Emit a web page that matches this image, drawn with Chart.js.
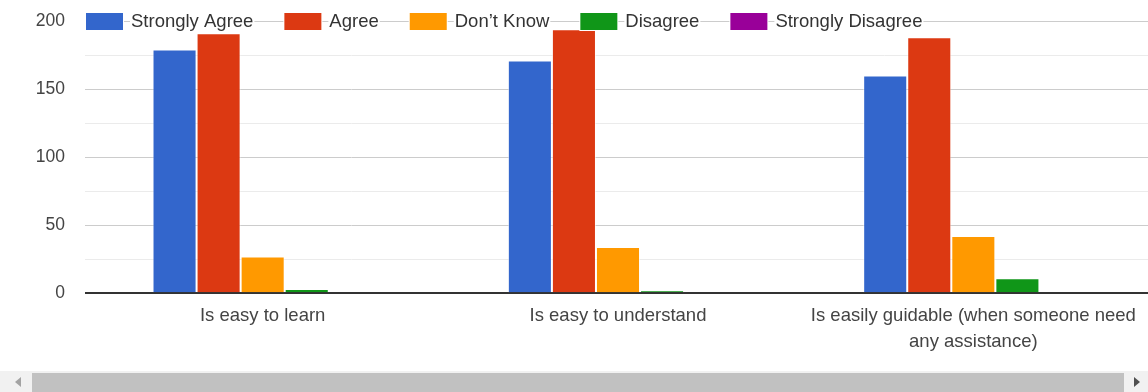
<!DOCTYPE html>
<html>
<head>
<meta charset="utf-8">
<script src="https://cdn.jsdelivr.net/npm/chart.js@4/dist/chart.umd.min.js"></script>
<style>
    html, body { margin: 0; padding: 0; background: #fff; overflow: hidden; }
    #wrap { position: absolute; left: 0; top: 0; width: 1148px; height: 392px; overflow: hidden; }
    #box { position: absolute; left: 0; top: 0; width: 1151px; height: 371px; }
    /* horizontal scroll strip under the chart */
    #track { position: absolute; left: 0; top: 371px; width: 1148px; height: 21px; background: #f1f1f1; }
    #thumb { position: absolute; left: 32px; top: 2px; width: 1092px; height: 19px; background: #c1c1c1; }
    .arr { position: absolute; top: 6px; width: 0; height: 0; border-top: 5px solid transparent; border-bottom: 5px solid transparent; }
    #arrL { left: 15px; border-right: 6px solid #a3a3a3; }
    #arrR { left: 1134px; border-left: 6px solid #505050; }
</style>
</head>
<body>
<div id="wrap">
    <div id="box"><canvas id="survey_chart"></canvas></div>
    <div id="track"><div id="arrL" class="arr"></div><div id="thumb"></div><div id="arrR" class="arr"></div></div>
</div>
<script>
    var questions = [
        'Is easy to learn',
        'Is easy to understand',
        ['Is easily guidable (when someone need', 'any assistance)']
    ];
    var answers = ['Strongly Agree', 'Agree', 'Don\u2019t Know', 'Disagree', 'Strongly Disagree'];
    var colours = ['#3366cc', '#dc3912', '#ff9900', '#109618', '#990099'];

    var stronglyAgree = [179, 171, 160];
    var agree = [191, 194, 188];
    var dontKnow = [27, 34, 42];
    var disagree = [3, 2, 11];
    var stronglyDisagree = [0, 0, 0];

    var yTicks = [0, 50, 100, 150, 200];

    var FONT = 'Arial, "Liberation Sans", sans-serif';
    var counts = [stronglyAgree, agree, dontKnow, disagree, stronglyDisagree];

    //legend drawn on the top gridline, google style
    var topLegend = {
        id: 'topLegend',
        afterDraw: function (chart) {
            var ctx = chart.ctx;
            var y = chart.scales.y.getPixelForValue(200);
            var x = chart.chartArea.left + 1;
            ctx.save();
            ctx.font = '18.5px ' + FONT;
            ctx.textBaseline = 'middle';
            chart.data.datasets.forEach(function (ds) {
                var w = ctx.measureText(ds.label).width;
                ctx.fillStyle = '#fff';
                ctx.fillRect(x - 1, y - 9, 39, 19);
                ctx.fillRect(x + 44, y - 11, w + 2, 22);
                ctx.fillStyle = ds.backgroundColor;
                ctx.fillRect(x, y - 8, 37, 17);
                ctx.fillStyle = '#333';
                ctx.fillText(ds.label, x + 45, y + 1);
                x += 45 + w + 31;
            });
            ctx.restore();
        }
    };

    new Chart(document.getElementById('survey_chart'), {
        type: 'bar',
        data: {
            labels: questions,
            datasets: answers.map(function (name, i) {
                return {
                    label: name,
                    data: counts[i],
                    backgroundColor: colours[i],
                    borderColor: 'rgba(255,255,255,0.55)',
                    borderWidth: 1,
                    categoryPercentage: 0.62,
                    barPercentage: 1
                };
            })
        },
        options: {
            responsive: true,
            maintainAspectRatio: false,
            animation: false,
            layout: {padding: {top: 21, right: 0, bottom: 14, left: 0}},
            plugins: {
                legend: {display: false},
                tooltip: {enabled: false}
            },
            scales: {
                x: {
                    grid: {display: false},
                    border: {display: false},
                    ticks: {
                        color: '#444',
                        font: {family: FONT, size: 18.5, lineHeight: 1.4},
                        padding: 2,
                        maxRotation: 0,
                        autoSkip: false
                    }
                },
                y: {
                    min: 0,
                    max: 200,
                    afterFit: function (scale) { scale.width = 85; },
                    afterBuildTicks: function (scale) {
                        var t = [];
                        for (var v = 0; v <= 200; v += 25) t.push({value: v});
                        scale.ticks = t;
                    },
                    border: {display: false},
                    grid: {
                        // invisible tick marks keep the labels 20px off the plot
                        drawTicks: true,
                        tickLength: 20,
                        tickColor: 'rgba(0,0,0,0)',
                        color: function (c) {
                            if (c.tick.value === 0) return '#333';
                            return c.tick.value % 50 === 0 ? '#cccccc' : '#ebebeb';
                        },
                        lineWidth: function (c) { return c.tick.value === 0 ? 2 : 1; }
                    },
                    ticks: {
                        color: '#444',
                        padding: 0,
                        font: {family: FONT, size: 17.5},
                        callback: function (v) { return yTicks.indexOf(v) >= 0 ? v : ''; }
                    }
                }
            }
        },
        plugins: [topLegend]
    });
</script>
</body>
</html>
